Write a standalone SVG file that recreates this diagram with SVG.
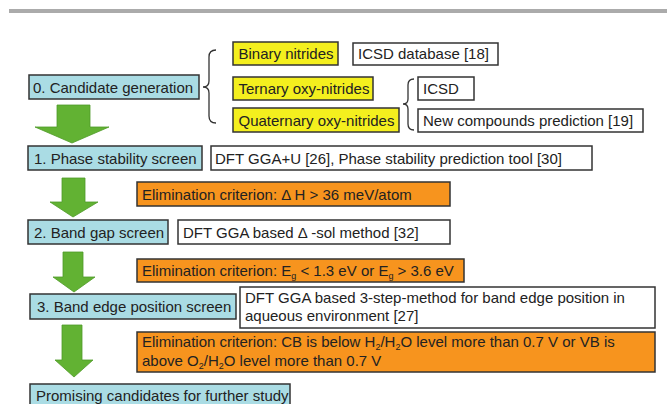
<svg xmlns="http://www.w3.org/2000/svg" width="667" height="404" viewBox="0 0 667 404">
<style>
text{font-family:"Liberation Sans",Arial,sans-serif;font-size:15px;fill:#222}
.blue{fill:#aadce4;stroke:#333;stroke-width:1.5}
.yel{fill:#f4ef1e;stroke:#333;stroke-width:1.5}
.wht{fill:#fff;stroke:#333;stroke-width:1.5}
.org{fill:#f7941e;stroke:#333;stroke-width:1.5}
.arr{fill:#62b233;stroke:#4f9a28;stroke-width:0.8}
.br{fill:none;stroke:#333;stroke-width:1.3}
.sub{font-size:9px}
</style>
<rect x="9" y="9" width="658" height="4" fill="#ababab"/>

<g id="n0"><rect class="blue" x="29" y="75" width="170" height="24"/><text x="33" y="92.5">0. Candidate generation</text></g>
<g id="binary"><rect class="yel" x="233" y="42" width="105" height="23"/><text x="238.5" y="59">Binary nitrides</text></g>
<g id="icsd18"><rect class="wht" x="353" y="43" width="145" height="22"/><text x="358" y="59">ICSD database [18]</text></g>
<g id="ternary"><rect class="yel" x="233" y="77" width="140" height="23"/><text x="238.5" y="94">Ternary oxy-nitrides</text></g>
<g id="quaternary"><rect class="yel" x="233" y="108" width="166" height="24"/><text x="238.5" y="125.5">Quaternary oxy-nitrides</text></g>
<g id="icsd"><rect class="wht" x="418" y="77" width="56" height="23"/><text x="423" y="94">ICSD</text></g>
<g id="newcomp"><rect class="wht" x="418" y="109" width="225" height="23"/><text x="423" y="126">New compounds prediction [19]</text></g>

<g id="n1"><rect class="blue" x="28" y="146" width="174" height="24"/><text x="34" y="163.5">1. Phase stability screen</text></g>
<g id="m1"><rect class="wht" x="211" y="146" width="381" height="24"/><text x="215" y="163.5">DFT GGA+U [26], Phase stability prediction tool [30]</text></g>
<g id="e1"><rect class="org" x="137" y="182" width="313" height="24"/><text x="142" y="199.5">Elimination criterion:  Δ H &gt; 36 meV/atom</text></g>

<g id="n2"><rect class="blue" x="28" y="220" width="140" height="24"/><text x="34" y="237.5">2. Band gap screen</text></g>
<g id="m2"><rect class="wht" x="178" y="220" width="272" height="24"/><text x="183" y="237.5">DFT GGA based  Δ -sol method [32]</text></g>
<g id="e2"><rect class="org" x="137" y="259" width="327" height="23"/><text x="142" y="275.5">Elimination criterion: E<tspan class="sub" dy="3">g</tspan><tspan dy="-3"> &lt; 1.3 eV or E</tspan><tspan class="sub" dy="3">g</tspan><tspan dy="-3"> &gt; 3.6 eV</tspan></text></g>

<g id="n3"><rect class="blue" x="30" y="294" width="206" height="25"/><text x="37" y="312">3. Band edge position screen</text></g>
<g id="m3"><rect class="wht" x="240" y="287" width="415" height="41"/><text x="245" y="303">DFT GGA based 3-step-method for band edge position in</text><text x="245" y="321">aqueous environment [27]</text></g>
<g id="e3"><rect class="org" x="137" y="332" width="518" height="40"/><text x="142" y="347">Elimination criterion: CB is below H<tspan class="sub" dy="3">2</tspan><tspan dy="-3">/H</tspan><tspan class="sub" dy="3">2</tspan><tspan dy="-3">O level more than 0.7 V or VB is</tspan></text><text x="142" y="366">above O<tspan class="sub" dy="3">2</tspan><tspan dy="-3">/H</tspan><tspan class="sub" dy="3">2</tspan><tspan dy="-3">O level more than 0.7 V</tspan></text></g>

<g id="n4"><rect class="blue" x="30" y="384" width="260" height="26"/><text x="36" y="401">Promising candidates for further study</text></g>

<g id="connectors">
<path class="br" d="M216,50 Q209,50 209,57 L209,81 Q209,87 203,87 Q209,87 209,93 L209,116 Q209,123 216,123"/>
<path class="br" d="M414,79 Q408,79 408,85 L408,99 Q408,104 403,104 Q408,104 408,109 L408,124 Q408,130 414,130"/>
<polygon class="arr" points="57,105 90,105 90,127 109,127 72,143 35,127 57,127"/>
<polygon class="arr" points="62,178 85,178 85,202 98,202 73,217 50,202 62,202"/>
<polygon class="arr" points="63,252 83,252 83,277 95,277 74,292 53,277 63,277"/>
<polygon class="arr" points="62,325 82,325 82,360 93,360 74,377 55,360 62,360"/>
</g>
</svg>
